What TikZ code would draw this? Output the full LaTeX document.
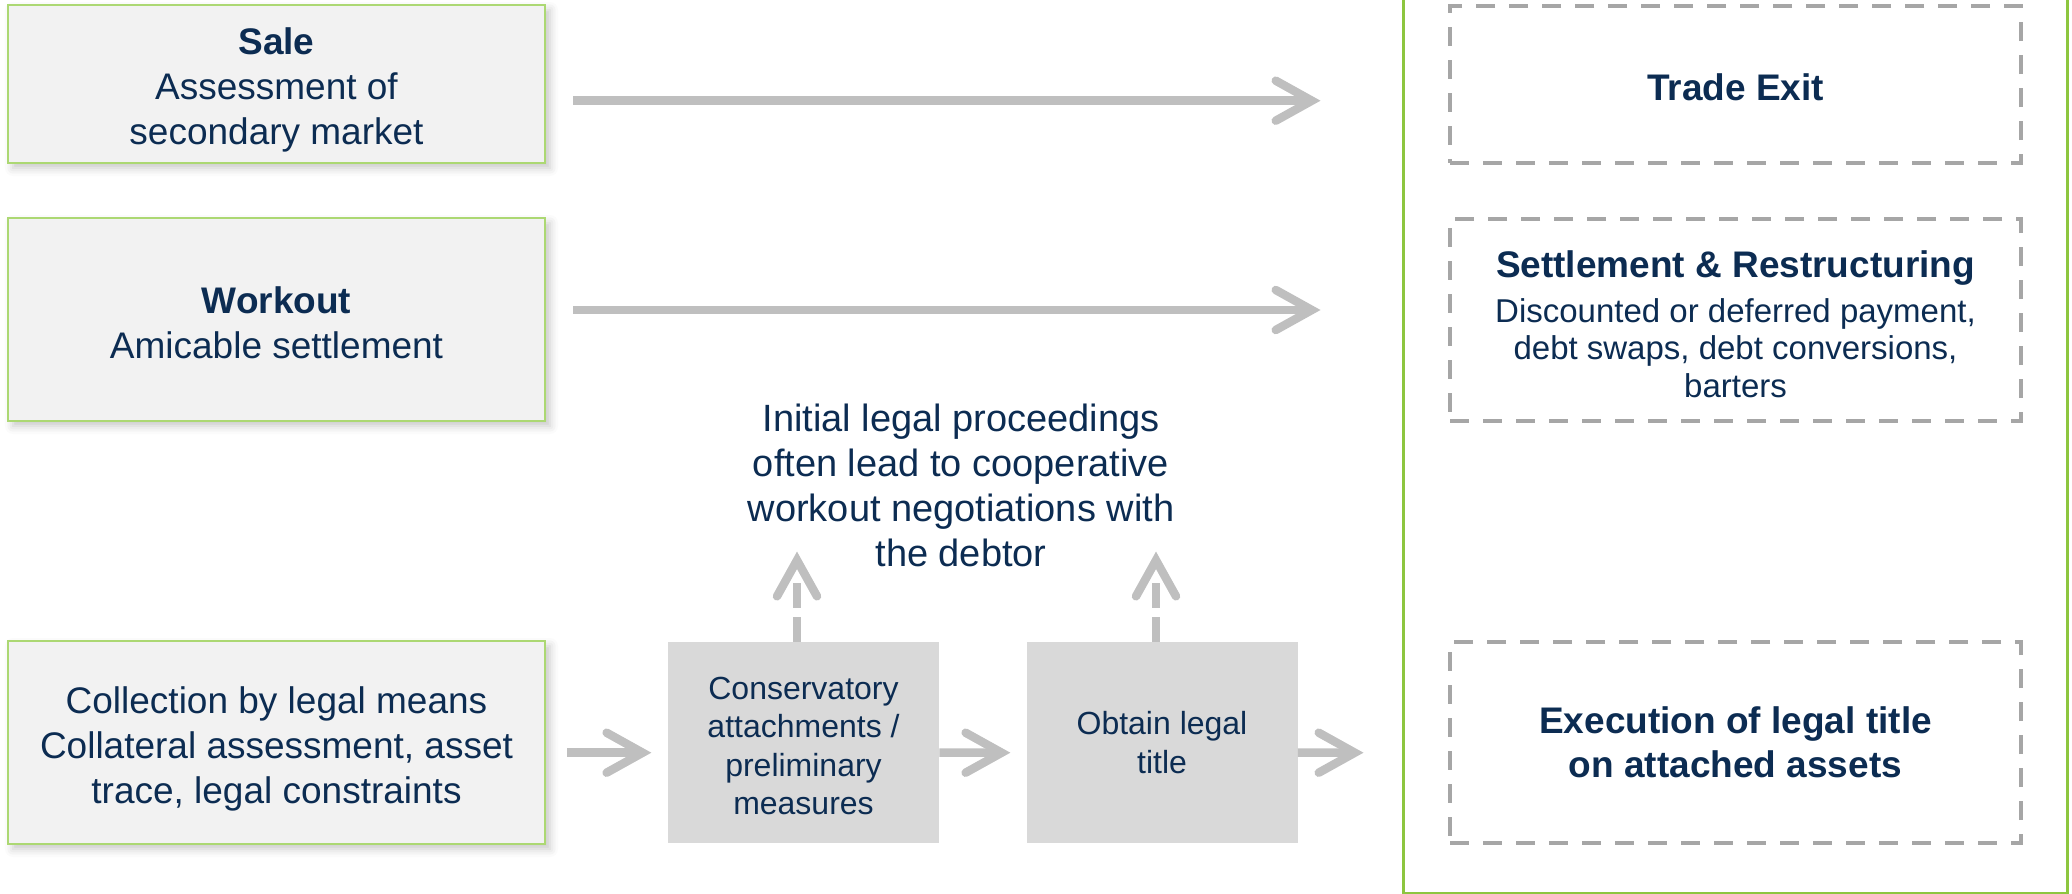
\documentclass[tikz,border=0pt]{standalone}
\usepackage{fontspec}
\setmainfont{Liberation Sans}
\usetikzlibrary{calc,shadows.blur}
\definecolor{navy}{RGB}{12,44,82}
\definecolor{boxfill}{RGB}{242,242,242}
\definecolor{boxgreen}{RGB}{172,216,115}
\definecolor{framegreen}{RGB}{141,198,63}
\definecolor{greyfill}{RGB}{217,217,217}
\definecolor{dashgrey}{RGB}{166,166,166}
\definecolor{arrowgrey}{RGB}{191,191,191}
\newcommand{\lift}[1]{\rule{0pt}{#1}}
\begin{document}
\begin{tikzpicture}[x=0.5pt,y=-0.5pt,
  leftbox/.style={draw=boxgreen, line width=1pt, fill=boxfill, minimum width=268.5pt,
    inner sep=0pt, align=center, text=navy, font=\fontsize{18.5}{22.5}\selectfont,
    blur shadow={shadow xshift=2.5pt, shadow yshift=-2.5pt, shadow blur radius=4pt, shadow opacity=22}},
  greybox/.style={fill=greyfill, minimum width=135.5pt, minimum height=100.5pt, inner sep=0pt,
    align=center, text=navy, font=\fontsize{16}{19.2}\selectfont},
  exitbox/.style={draw=dashgrey, line width=2.25pt, dash pattern=on 9.5pt off 7pt, fill=white,
    minimum width=285.5pt, inner sep=0pt, align=center, text=navy},
  notetext/.style={align=center, text=navy, font=\fontsize{19}{22.5}\selectfont, inner sep=0pt},
  frame/.style={draw=framegreen, line width=1.75pt, minimum width=332pt, minimum height=497pt, inner sep=0pt},
  shaft/.style={draw=arrowgrey, line width=4.25pt},
  dshaft/.style={draw=arrowgrey, line width=4.25pt, dash pattern=on 12.5pt off 4.5pt},
  chev/.style={draw=arrowgrey, line width=4.25pt, line cap=round, line join=miter}
]
\useasboundingbox (0,0) rectangle (2072,894);
\clip (0,0) rectangle (2072,894);

% right frame
\node[frame] (frm) at (1735.5,397) {};

% left boxes
\node[leftbox, minimum height=79pt] (sale) at (276.5,84)
  {\lift{19.75pt}\textbf{Sale}\\Assessment of\\secondary market};
\node[leftbox, minimum height=101.5pt] (workout) at (276.5,319.5)
  {\lift{16.3pt}\textbf{Workout}\\Amicable settlement};
\node[leftbox, minimum height=101.5pt] (collect) at (276.5,742.5)
  {\lift{19.8pt}Collection by legal means\\Collateral assessment, asset\\trace, legal constraints};

% grey steps
\node[greybox] (cons) at (803.5,742.5) {\lift{14.7pt}Conservatory\\attachments /\\preliminary\\measures};
\node[greybox] (obtain) at (1162,742.5) {Obtain legal\\title};

% outcome boxes
\node[exitbox, minimum height=78.5pt, font=\fontsize{18.5}{22.5}\selectfont\bfseries] (trade) at (1735.5,84.5)
  {\lift{16.2pt}Trade Exit};
\node[exitbox, minimum height=101pt, font=\fontsize{16.5}{18.7}\selectfont] (settle) at (1735.5,320)
  {{\lift{17.4pt}\fontsize{18.5}{22.5}\selectfont\bfseries Settlement \& Restructuring}\\[3.7pt]
   Discounted or deferred payment,\\debt swaps, debt conversions,\\barters};
\node[exitbox, minimum height=100.5pt, font=\fontsize{18.5}{21.8}\selectfont\bfseries] (exec) at (1735.5,742.5)
  {Execution of legal title\\on attached assets};

% note
\node[notetext] (note) at (961,485)
  {Initial legal proceedings\\often lead to cooperative\\workout negotiations with\\the debtor};

% arrow tips (apex of chevrons)
\coordinate (t1) at ([shift={(-136,16.2)}]trade.west);
\coordinate (t2) at ([shift={(-136,-10)}]settle.west);
\coordinate (t3) at ([shift={(-25,10.2)}]cons.west);
\coordinate (t4) at ([shift={(-24.5,10.2)}]obtain.west);
\coordinate (t5) at ([shift={(-93,10.2)}]exec.west);
\coordinate (u1) at ([shift={(-6.5,-81.3)}]cons.north);
\coordinate (u2) at ([shift={(-6,-81.3)}]obtain.north);

% horizontal arrows
\draw[shaft] ([shift={(27,16.7)}]sale.east) -- (t1);
\draw[chev] ([shift={(-36,-20)}]t1) -- (t1) -- ([shift={(-36,20)}]t1);
\draw[shaft] ([shift={(27,-9.5)}]workout.east) -- (t2);
\draw[chev] ([shift={(-36,-20)}]t2) -- (t2) -- ([shift={(-36,20)}]t2);
\draw[shaft] ([shift={(21,10.2)}]collect.east) -- (t3);
\draw[chev] ([shift={(-36,-20)}]t3) -- (t3) -- ([shift={(-36,20)}]t3);
\draw[shaft] ([yshift=-5.1pt]cons.east) -- (t4);
\draw[chev] ([shift={(-36,-20)}]t4) -- (t4) -- ([shift={(-36,20)}]t4);
\draw[shaft] ([yshift=-5.1pt]obtain.east) -- (t5);
\draw[chev] ([shift={(-36,-20)}]t5) -- (t5) -- ([shift={(-36,20)}]t5);

% upward dashed arrows
\draw[dshaft] ([xshift=-3.25pt]cons.north) -- ([shift={(-6.5,-59)}]cons.north);
\draw[chev] ([shift={(-20,36)}]u1) -- (u1) -- ([shift={(20,36)}]u1);
\draw[dshaft] ([xshift=-3pt]obtain.north) -- ([shift={(-6,-59)}]obtain.north);
\draw[chev] ([shift={(-20,36)}]u2) -- (u2) -- ([shift={(20,36)}]u2);
\end{tikzpicture}
\end{document}
